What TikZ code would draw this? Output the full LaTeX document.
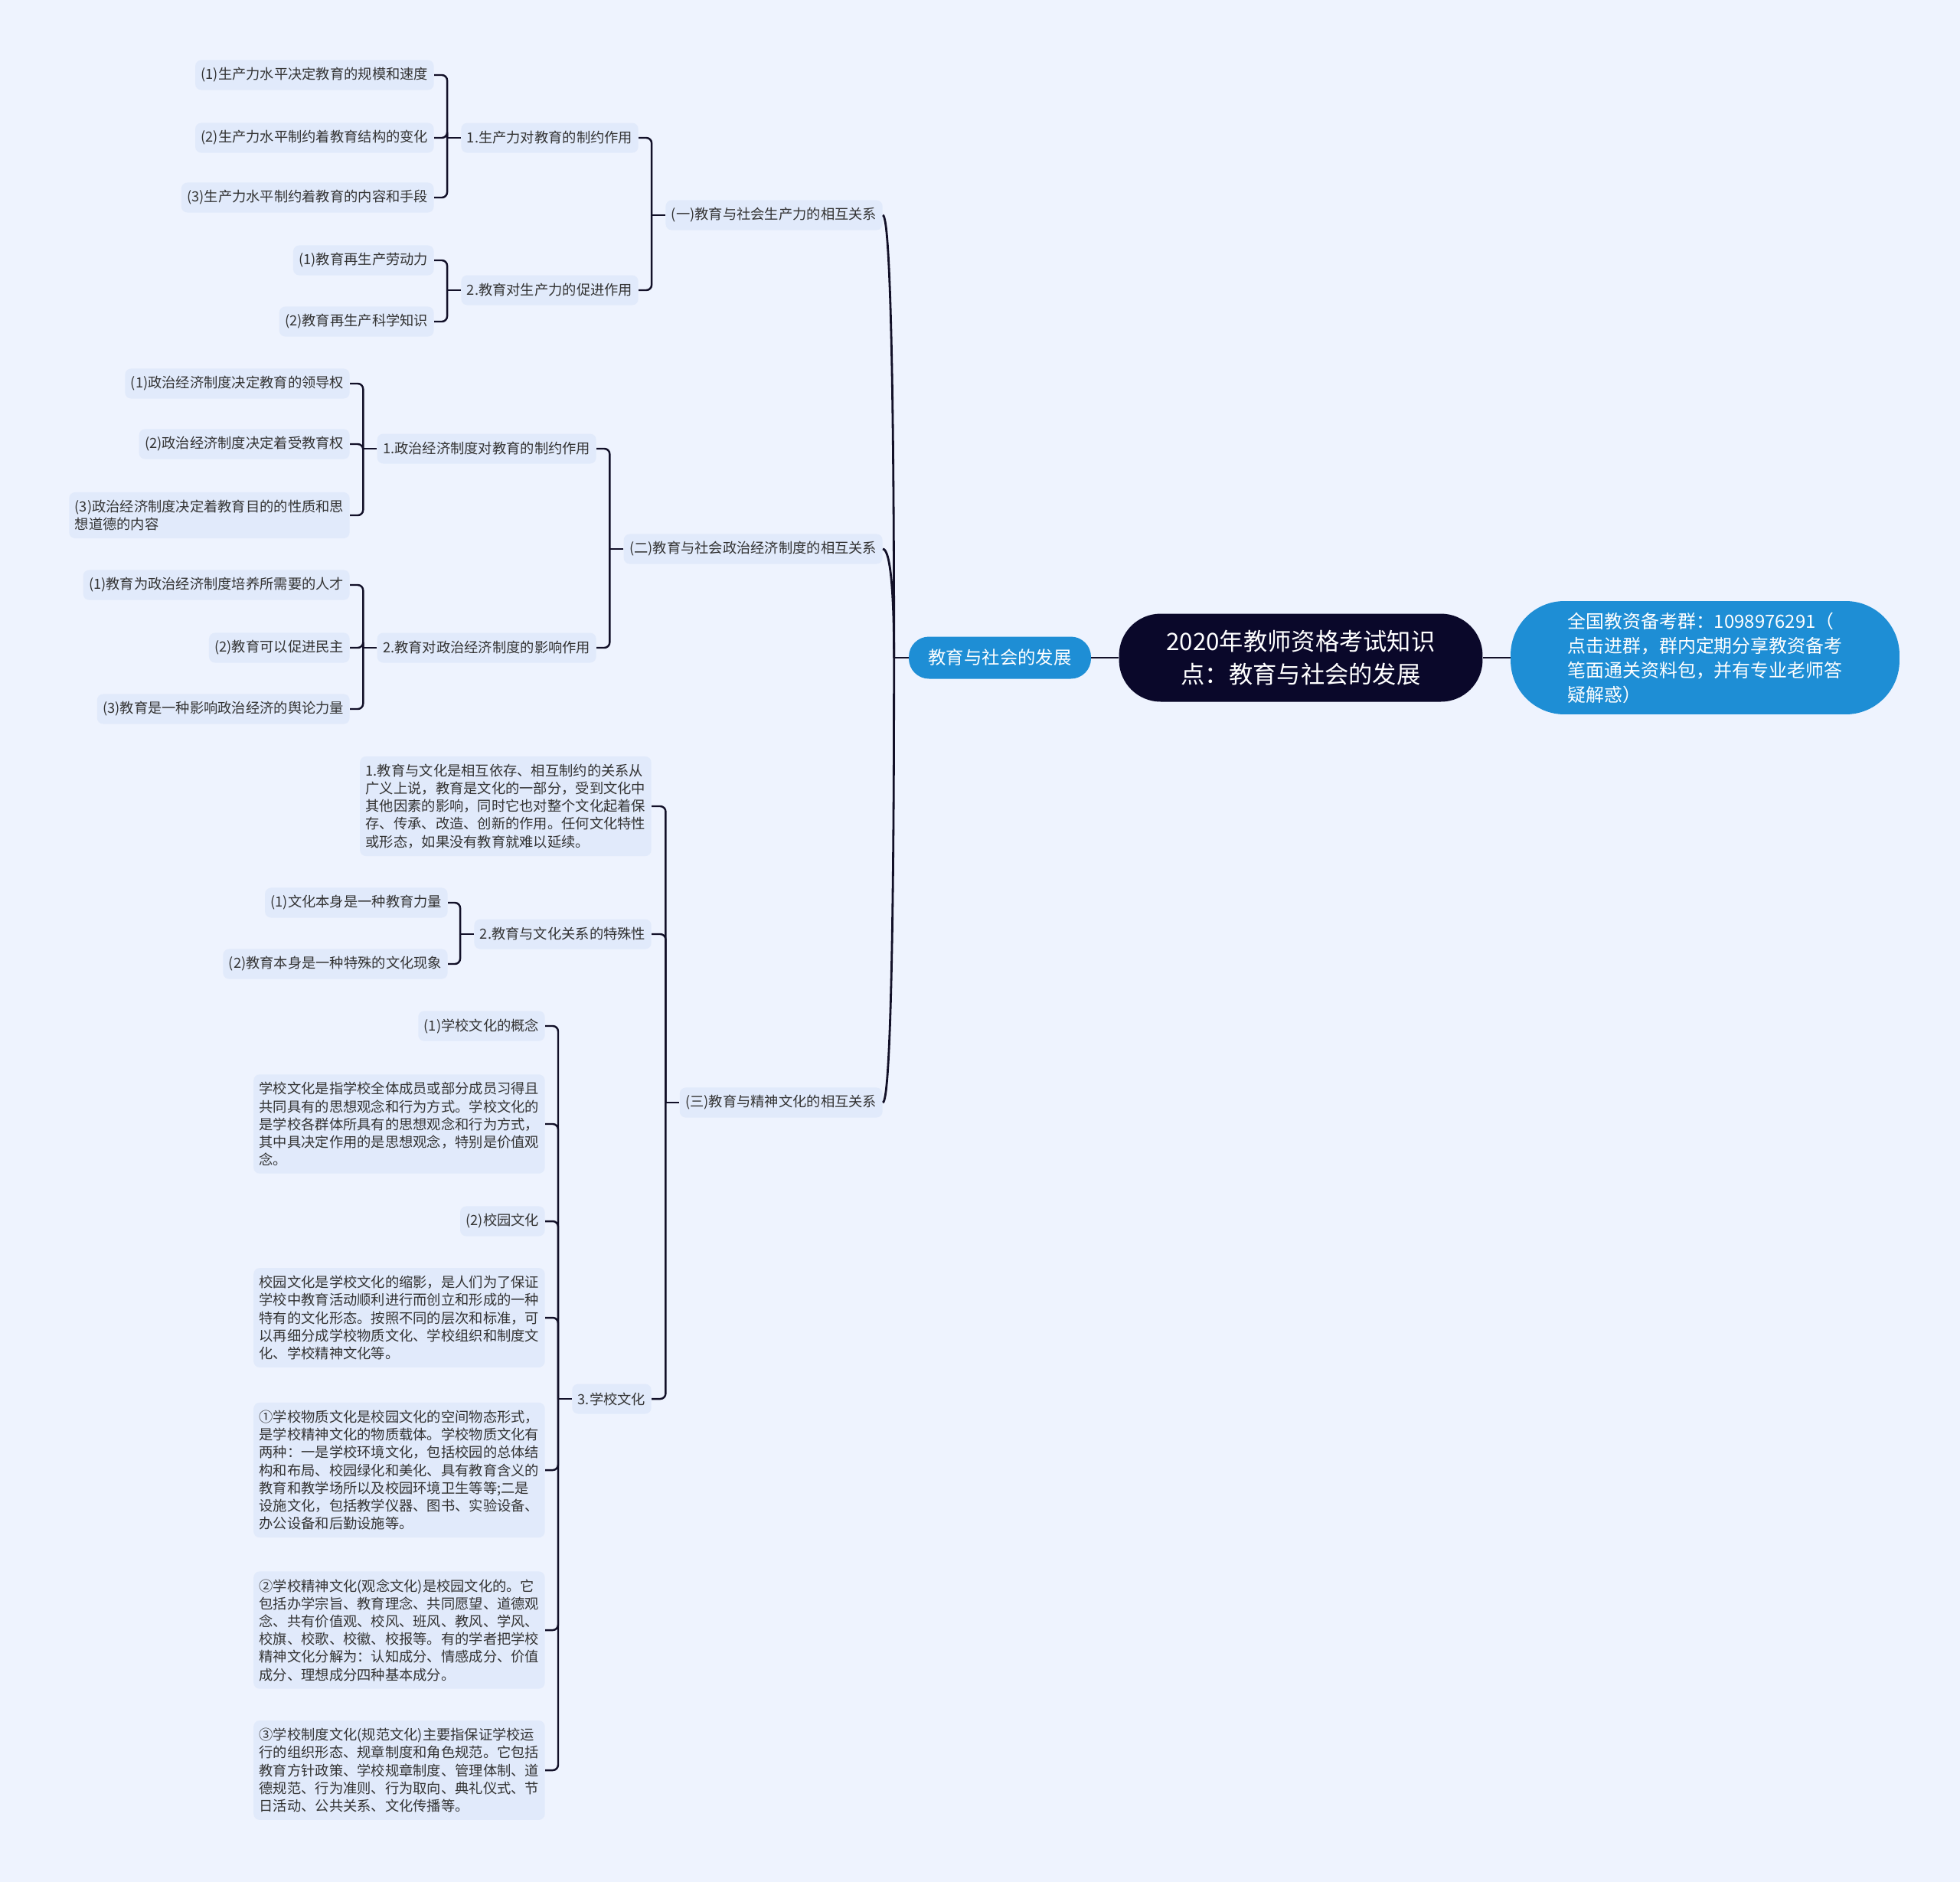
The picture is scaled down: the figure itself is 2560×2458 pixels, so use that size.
\documentclass[tikz,border=0pt]{standalone}
\usepackage{fontspec}
\setmainfont{Noto Sans CJK SC}
\definecolor{bgcol}{RGB}{238,243,254}
\definecolor{boxcol}{RGB}{225,234,251}
\definecolor{inkcol}{RGB}{51,51,51}
\definecolor{linecol}{RGB}{18,16,40}
\definecolor{rootcol}{RGB}{10,8,42}
\definecolor{bluecol}{RGB}{30,142,213}
\tikzset{
  leaf/.style={fill=boxcol, text=inkcol, rounded corners=4.5pt, inner xsep=0.15cm, inner ysep=0.2cm,
    minimum height=0.78cm, align=left, anchor=east, font=\fontsize{10.4pt}{13.2pt}\selectfont},
  link/.style={draw=linecol, line width=1.4pt, rounded corners=4pt},
  trunk/.style={draw=linecol, line width=1.6pt}
}

\begin{document}
\begin{tikzpicture}[x=0.02cm, y=-0.02cm]
  \fill[bgcol] (0,0) rectangle (2560,2458);
  \useasboundingbox (0,0) rectangle (2560,2458);

  \node[fill=rootcol, text=white, rounded corners=31pt, minimum width=9.5cm, minimum height=2.3cm, align=center,
    font=\fontsize{17.8pt}{24.4pt}\selectfont] (root) at (1699,859) {2020年教师资格考试知识\\点：教育与社会的发展};
  \node[fill=bluecol, text=white, rounded corners=40pt, minimum width=10.16cm, minimum height=2.96cm, align=left,
    font=\fontsize{13.6pt}{18.2pt}\selectfont] (group) at (2227,859)
    {全国教资备考群：1098976291（\\点击进群，群内定期分享教资备考\\笔面通关资料包，并有专业老师答\\疑解惑）};
  \node[fill=bluecol, text=white, rounded corners=15pt, minimum width=4.76cm, minimum height=1.1cm,
    font=\fontsize{13.3pt}{16pt}\selectfont] (theme) at (1306,859) {教育与社会的发展};

  \node[leaf] (sec1) at (1153,281) {(一)教育与社会生产力的相互关系};
  \node[leaf] (sec2) at (1153,717) {(二)教育与社会政治经济制度的相互关系};
  \node[leaf] (sec3) at (1153,1440) {(三)教育与精神文化的相互关系};

  \node[leaf] (p11) at (834,180) {1.生产力对教育的制约作用};
  \node[leaf] (p12) at (834,379) {2.教育对生产力的促进作用};
  \node[leaf] (p21) at (779,586) {1.政治经济制度对教育的制约作用};
  \node[leaf] (p22) at (779,846) {2.教育对政治经济制度的影响作用};
  \node[leaf] (p31) at (851,1053) {1.教育与文化是相互依存、相互制约的关系从\\广义上说，教育是文化的一部分，受到文化中\\其他因素的影响，同时它也对整个文化起着保\\存、传承、改造、创新的作用。任何文化特性\\或形态，如果没有教育就难以延续。};
  \node[leaf] (p32) at (851,1220) {2.教育与文化关系的特殊性};
  \node[leaf] (p33) at (851,1827) {3.学校文化};

  \node[leaf] (q111) at (567,98) {(1)生产力水平决定教育的规模和速度};
  \node[leaf] (q112) at (567,180) {(2)生产力水平制约着教育结构的变化};
  \node[leaf] (q113) at (567,258) {(3)生产力水平制约着教育的内容和手段};
  \node[leaf] (q121) at (567,340) {(1)教育再生产劳动力};
  \node[leaf] (q122) at (567,420) {(2)教育再生产科学知识};
  \node[leaf] (q211) at (457,501) {(1)政治经济制度决定教育的领导权};
  \node[leaf] (q212) at (457,580) {(2)政治经济制度决定着受教育权};
  \node[leaf] (q213) at (457,673) {(3)政治经济制度决定着教育目的的性质和思\\想道德的内容};
  \node[leaf] (q221) at (457,764) {(1)教育为政治经济制度培养所需要的人才};
  \node[leaf] (q222) at (457,846) {(2)教育可以促进民主};
  \node[leaf] (q223) at (457,926) {(3)教育是一种影响政治经济的舆论力量};
  \node[leaf] (q321) at (585,1179) {(1)文化本身是一种教育力量};
  \node[leaf] (q322) at (585,1259) {(2)教育本身是一种特殊的文化现象};
  \node[leaf] (q331) at (712,1340) {(1)学校文化的概念};
  \node[leaf] (q332) at (712,1468) {学校文化是指学校全体成员或部分成员习得且\\共同具有的思想观念和行为方式。学校文化的\\是学校各群体所具有的思想观念和行为方式，\\其中具决定作用的是思想观念，特别是价值观\\念。};
  \node[leaf] (q333) at (712,1595) {(2)校园文化};
  \node[leaf] (q334) at (712,1721) {校园文化是学校文化的缩影，是人们为了保证\\学校中教育活动顺利进行而创立和形成的一种\\特有的文化形态。按照不同的层次和标准，可\\以再细分成学校物质文化、学校组织和制度文\\化、学校精神文化等。};
  \node[leaf] (q335) at (712,1920) {①学校物质文化是校园文化的空间物态形式，\\是学校精神文化的物质载体。学校物质文化有\\两种：一是学校环境文化，包括校园的总体结\\构和布局、校园绿化和美化、具有教育含义的\\教育和教学场所以及校园环境卫生等等;二是\\设施文化，包括教学仪器、图书、实验设备、\\办公设备和后勤设施等。};
  \node[leaf] (q336) at (712,2129) {②学校精神文化(观念文化)是校园文化的。它\\包括办学宗旨、教育理念、共同愿望、道德观\\念、共有价值观、校风、班风、教风、学风、\\校旗、校歌、校徽、校报等。有的学者把学校\\精神文化分解为：认知成分、情感成分、价值\\成分、理想成分四种基本成分。};
  \node[leaf] (q337) at (712,2312) {③学校制度文化(规范文化)主要指保证学校运\\行的组织形态、规章制度和角色规范。它包括\\教育方针政策、学校规章制度、管理体制、道\\德规范、行为准则、行为取向、典礼仪式、节\\日活动、公共关系、文化传播等。};

  \draw[trunk] (theme.east) -- (root.west);
  \draw[trunk] (root.east) -- (group.west);
  \draw[trunk] (theme.west) -- ++(-19,0) coordinate (hub);
  \draw[trunk] (hub) .. controls +(0,-347) and +(10,0) .. (sec1.east);
  \draw[trunk] (hub) .. controls +(0,-85) and +(10,0) .. (sec2.east);
  \draw[trunk] (hub) .. controls +(0,349) and +(10,0) .. (sec3.east);

  \draw[link] (sec1.west) -- ++(-18,0) coordinate (j1);
  \draw[link] (sec2.west) -- ++(-18,0) coordinate (j2);
  \draw[link] (sec3.west) -- ++(-18,0) coordinate (j3);
  \draw[link] (p11.west) -- ++(-18,0) coordinate (j11);
  \draw[link] (p12.west) -- ++(-18,0) coordinate (j12);
  \draw[link] (p21.west) -- ++(-18,0) coordinate (j21);
  \draw[link] (p22.west) -- ++(-18,0) coordinate (j22);
  \draw[link] (p32.west) -- ++(-18,0) coordinate (j32);
  \draw[link] (p33.west) -- ++(-18,0) coordinate (j33);
  \foreach \c in {p11,p12} \draw[link] (j1) |- (\c.east);
  \foreach \c in {p21,p22} \draw[link] (j2) |- (\c.east);
  \foreach \c in {p31,p32,p33} \draw[link] (j3) |- (\c.east);
  \foreach \c in {q111,q112,q113} \draw[link] (j11) |- (\c.east);
  \foreach \c in {q121,q122} \draw[link] (j12) |- (\c.east);
  \foreach \c in {q211,q212,q213} \draw[link] (j21) |- (\c.east);
  \foreach \c in {q221,q222,q223} \draw[link] (j22) |- (\c.east);
  \foreach \c in {q321,q322} \draw[link] (j32) |- (\c.east);
  \foreach \c in {q331,q332,q333,q334,q335,q336,q337} \draw[link] (j33) |- (\c.east);
\end{tikzpicture}
\end{document}
